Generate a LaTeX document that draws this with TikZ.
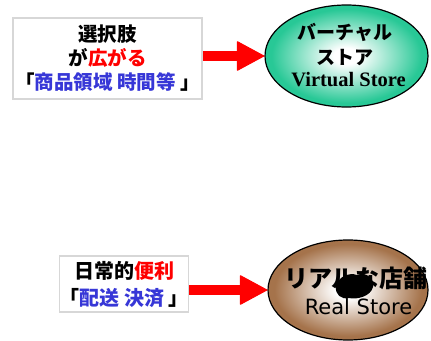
\documentclass[tikz,border=0pt]{standalone}
\usepackage{fontspec}
\newfontfamily\jp{Noto Sans CJK JP}
\newfontfamily\serifb{Liberation Serif}
\newfontfamily\dvs{DejaVu Sans}
\usetikzlibrary{shapes.geometric,arrows.meta}
\definecolor{tealedge}{RGB}{40,200,150}
\definecolor{brownedge}{RGB}{165,115,75}
\definecolor{jpblue}{RGB}{55,55,215}
\definecolor{boxgray}{RGB}{215,215,215}
\pgfdeclareradialshading{tealrad}{\pgfpoint{0bp}{0bp}}{color(0bp)=(white); color(4bp)=(white); color(23bp)=(tealedge); color(50bp)=(tealedge)}
\pgfdeclareradialshading{brownrad}{\pgfpoint{0bp}{0bp}}{color(0bp)=(white); color(4bp)=(white); color(23bp)=(brownedge); color(50bp)=(brownedge)}
\tikzset{
  txtbox/.style={draw=boxgray, line width=1.5pt, fill=white, inner sep=0pt, align=center},
  store/.style={ellipse, draw=black, line width=1.2pt, inner sep=0pt, align=center},
  bigarrow/.style={draw=red, line width=10pt, -{Triangle[length=28pt,width=30pt,line width=1pt,round]}},
}
\begin{document}
\begin{tikzpicture}[x=1pt,y=-1pt]
\useasboundingbox (0,0) rectangle (431,340);
% top box
\node[txtbox, minimum width=189pt, minimum height=81pt,
      font=\jp\bfseries\fontsize{19.5}{24}\selectfont] (choice) at (107.5,58.5)
  {選択肢\\が\textcolor{red}{広がる}\\「\textcolor{jpblue}{商品領域 時間等} 」};
% top ellipse
\node[store, shading=tealrad, minimum width=163pt, minimum height=102pt] (virtual) at (346.5,56) {};
\node[font=\jp\bfseries\fontsize{19}{25}\selectfont, align=center, inner sep=0pt] (vtext) at (345,45)
  {バーチャル\\ストア};
\node[font=\serifb\bfseries\fontsize{20.5}{24}\selectfont, inner sep=0pt] (vlabel) at (348.5,80) {Virtual Store};
% top arrow
\draw[bigarrow] (choice.east |- virtual.west) -- (virtual.west);
% bottom box
\node[txtbox, minimum width=128pt, minimum height=56pt,
      font=\jp\bfseries\fontsize{20}{27}\selectfont] (daily) at (124,284)
  {日常的\textcolor{red}{便利}\\「\textcolor{jpblue}{配送 決済} 」};
% bottom ellipse
\node[store, shading=brownrad, minimum width=160pt, minimum height=100pt] (real) at (348,290) {};
\node[font=\jp\bfseries\fontsize{24}{28}\selectfont, inner sep=0pt] (rtext) at (356,278) {リアルな店舗};
\node[font=\dvs\fontsize{21}{24}\selectfont, inner sep=0pt] (rlabel) at (358.5,307) {Real Store};
\fill[black] (336,287) .. controls (337,277) and (349,272) .. (357,275)
  .. controls (366,271) and (375,279) .. (373,287)
  .. controls (371,296) and (357,300) .. (349,298)
  .. controls (341,300) and (335,294) .. (336,287) -- cycle;
% bottom arrow
\draw[bigarrow] (daily.east |- real.west) -- (real.west);
\end{tikzpicture}
\end{document}
